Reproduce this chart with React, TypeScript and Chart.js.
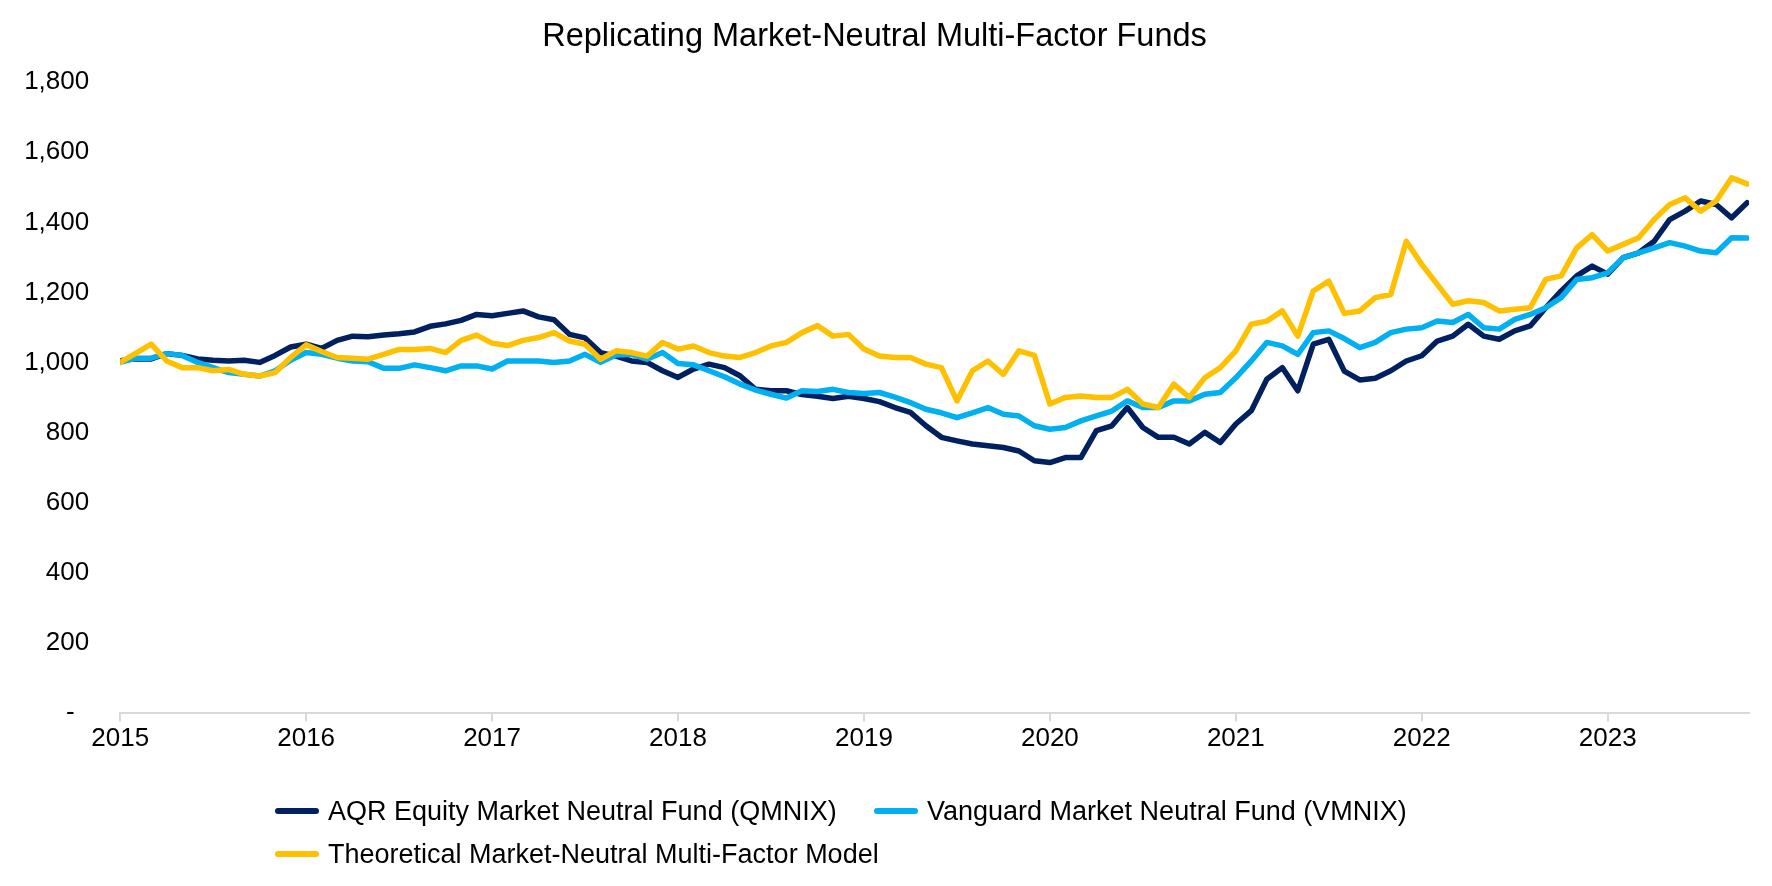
import React, { useEffect, useRef, useState } from "react";
import { Chart, registerables } from "chart.js";

Chart.register(...registerables);

// ---- Data (monthly readings, starting January 2015) ----
const START_YEAR = 2015;
const END_X = 2023.76;

const aqr = [
  1005, 1010, 1010, 1025, 1020, 1010, 1006, 1004, 1006, 1000, 1020, 1044,
  1052, 1040, 1063, 1075, 1073, 1078, 1082, 1087, 1103, 1110, 1120, 1137,
  1133, 1140, 1147, 1130, 1122, 1080, 1070, 1028, 1018, 1004, 1000, 976,
  957, 981, 995, 985, 962, 923, 919, 919, 908, 903, 897, 903,
  897, 888, 871, 857, 819, 786, 776, 767, 762, 757, 747, 719,
  714, 728, 728, 805, 819, 871, 814, 786, 786, 767, 800, 771,
  824, 862, 952, 985, 919, 1052, 1066, 975, 950, 955, 976, 1004,
  1019, 1061, 1075, 1109, 1075, 1066, 1090, 1104, 1156, 1204, 1247, 1275,
  1252, 1299, 1313, 1346, 1408, 1432, 1461, 1451, 1413, 1456,
];

const vanguard = [
  1000, 1012, 1012, 1025, 1020, 1000, 985, 971, 966, 961, 976, 1006,
  1028, 1023, 1012, 1004, 1002, 983, 983, 993, 985, 976, 990, 990,
  981, 1004, 1004, 1004, 1000, 1004, 1023, 1000, 1021, 1023, 1009, 1028,
  997, 993, 976, 959, 938, 921, 909, 898, 919, 917, 923, 914,
  911, 914, 901, 885, 866, 856, 842, 856, 871, 852, 847, 819,
  809, 814, 833, 847, 861, 890, 871, 871, 890, 890, 909, 914,
  956, 1004, 1057, 1047, 1023, 1085, 1090, 1068, 1042, 1057, 1085, 1095,
  1099, 1118, 1114, 1137, 1099, 1095, 1123, 1137, 1156, 1185, 1237, 1242,
  1256, 1299, 1313, 1327, 1342, 1332, 1318, 1313, 1356, 1355,
];

const theoretical = [
  1000, 1026, 1052, 1004, 985, 985, 976, 980, 966, 961, 971, 1014,
  1050, 1031, 1014, 1012, 1009, 1023, 1037, 1037, 1040, 1028, 1063, 1078,
  1055, 1048, 1063, 1071, 1085, 1061, 1052, 1009, 1033, 1028, 1018, 1057,
  1038, 1047, 1028, 1018, 1014, 1028, 1047, 1057, 1085, 1105, 1075, 1080,
  1038, 1018, 1014, 1014, 995, 985, 890, 976, 1004, 966, 1033, 1020,
  881, 900, 904, 900, 900, 923, 881, 871, 938, 900, 956, 985,
  1033, 1109, 1118, 1147, 1075, 1204, 1232, 1140, 1147, 1185, 1194, 1346,
  1280, 1223, 1166, 1176, 1171, 1147, 1152, 1156, 1237, 1247, 1327, 1365,
  1318, 1337, 1356, 1408, 1451, 1470, 1432, 1461, 1527, 1510,
];

const xTickYears = [2015, 2016, 2017, 2018, 2019, 2020, 2021, 2022, 2023];
const yTickValues = [0, 200, 400, 600, 800, 1000, 1200, 1400, 1600, 1800];

const TITLE = "Replicating Market-Neutral Multi-Factor Funds";
const SERIES_NAMES = [
  "AQR Equity Market Neutral Fund (QMNIX)",
  "Vanguard Market Neutral Fund (VMNIX)",
  "Theoretical Market-Neutral Multi-Factor Model",
];
const COLORS = ["#002060", "#00B0F0", "#FFC000"];

function toPoints(values: number[]) {
  return values.map((v, i) => ({ x: START_YEAR + i / 12, y: v }));
}

function pickNarrowFont(): { family: string; tick: number; legend: number } {
  try {
    const ctx = document.createElement("canvas").getContext("2d");
    if (ctx) {
      const sample = "AQR Equity Market Neutral Fund (QMNIX) 1,800 2015";
      ctx.font = "32px monospace";
      const mono = ctx.measureText(sample).width;
      for (const f of ["Liberation Sans Narrow", "Arial Narrow"]) {
        ctx.font = `32px "${f}", monospace`;
        const w = ctx.measureText(sample).width;
        if (Math.abs(w - mono) > 1) {
          return { family: `"${f}", "Liberation Sans", Arial, sans-serif`, tick: 31, legend: 33 };
        }
      }
    }
  } catch (e) {
    /* ignore */
  }
  return { family: '"Liberation Sans", Arial, sans-serif', tick: 26, legend: 27 };
}

export default function App() {
  const canvasRef = useRef<HTMLCanvasElement | null>(null);
  const [font] = useState(() => pickNarrowFont());

  useEffect(() => {
    if (!canvasRef.current) return;
    const chart = new Chart(canvasRef.current, {
      type: "line",
      data: {
        datasets: [
          { label: SERIES_NAMES[0], data: toPoints(aqr), borderColor: COLORS[0], backgroundColor: COLORS[0], order: 3 },
          { label: SERIES_NAMES[1], data: toPoints(vanguard), borderColor: COLORS[1], backgroundColor: COLORS[1], order: 2 },
          { label: SERIES_NAMES[2], data: toPoints(theoretical), borderColor: COLORS[2], backgroundColor: COLORS[2], order: 1 },
        ],
      },
      options: {
        responsive: false,
        animation: false,
        devicePixelRatio: 1,
        parsing: false as any,
        elements: {
          line: { borderWidth: 5.5, tension: 0, borderJoinStyle: "round", borderCapStyle: "round" },
          point: { radius: 0, hoverRadius: 0 },
        },
        layout: { padding: { left: 0, right: 23, top: 0, bottom: 113.5 } },
        plugins: {
          legend: { display: false },
          tooltip: { enabled: false },
          title: {
            display: true,
            text: TITLE,
            color: "#000",
            font: { family: '"Liberation Sans", Arial, sans-serif', size: 32.5, weight: "normal" },
            padding: { top: 18, bottom: 25.3 },
          },
        },
        scales: {
          x: {
            type: "linear",
            min: START_YEAR,
            max: END_X,
            afterBuildTicks: (scale: any) => {
              scale.ticks = xTickYears.map((v) => ({ value: v }));
            },
            afterFit: (scale: any) => {
              scale.height = 60;
            },
            ticks: {
              color: "#000",
              font: { family: font.family, size: font.tick },
              padding: 2,
              maxRotation: 0,
              autoSkip: false,
              callback: (v: any) => String(v),
            },
            grid: {
              display: true,
              drawOnChartArea: false,
              drawTicks: true,
              tickLength: 9,
              color: "#d9d9d9",
              lineWidth: 2,
            },
            border: { display: true, color: "#d9d9d9", width: 2 },
          },
          y: {
            type: "linear",
            min: 0,
            max: 1800,
            afterBuildTicks: (scale: any) => {
              scale.ticks = yTickValues.map((v) => ({ value: v }));
            },
            afterFit: (scale: any) => {
              scale.width = 120.2;
            },
            ticks: {
              color: "#000",
              font: { family: font.family, size: font.tick },
              padding: 31,
              callback: (v: any) => (Number(v) === 0 ? "-  " : Number(v).toLocaleString("en-US")),
            },
            grid: { display: false, drawTicks: false },
            border: { display: false },
          },
        },
      },
    } as any);
    return () => chart.destroy();
  }, [font]);

  const legendItems = [
    { idx: 0, left: 275, top: 811 },
    { idx: 1, left: 874, top: 811 },
    { idx: 2, left: 275, top: 854 },
  ];

  return (
    <div style={{ position: "fixed", left: 0, top: 0, width: 1772, height: 886, background: "#fff" }}>
      <canvas ref={canvasRef} width={1772} height={886} style={{ width: 1772, height: 886, display: "block" }} />
      {legendItems.map((it) => (
        <div
          key={it.idx}
          style={{
            position: "absolute",
            left: it.left,
            top: it.top - 20,
            height: 40,
            display: "flex",
            alignItems: "center",
            whiteSpace: "nowrap",
            fontFamily: font.family,
            fontSize: font.legend,
            color: "#000",
            lineHeight: 1,
          }}
        >
          <span
            style={{
              display: "inline-block",
              width: 44,
              height: 6,
              borderRadius: 3,
              background: COLORS[it.idx],
              marginRight: 9,
            }}
          />
          <span>{SERIES_NAMES[it.idx]}</span>
        </div>
      ))}
    </div>
  );
}
